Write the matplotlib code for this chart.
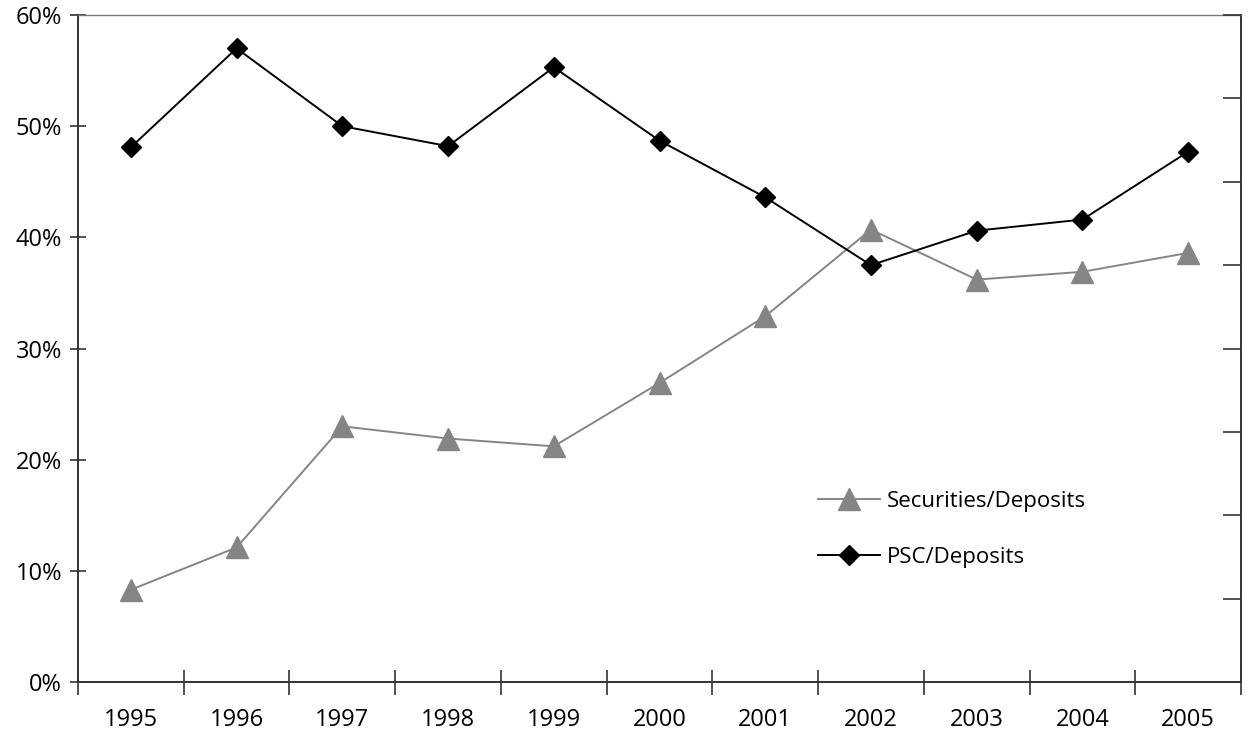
import numpy as np
import matplotlib.pyplot as plt
from matplotlib.ticker import FuncFormatter, MultipleLocator

years = ['1995', '1996', '1997', '1998', '1999', '2000', '2001', '2002', '2003', '2004', '2005']
securities = [8.3, 12.1, 23.0, 21.9, 21.2, 26.9, 32.9, 40.7, 36.2, 36.9, 38.6]
psc = [48.1, 57.0, 50.0, 48.2, 55.3, 48.7, 43.6, 37.5, 40.6, 41.6, 47.7]

plt.rcParams['font.family'] = ['Open Sans', 'DejaVu Sans']

fig = plt.figure(figsize=(12.51, 7.35), dpi=100)
ax = fig.add_axes([78 / 1251, 53 / 735, (1241 - 78) / 1251, (682 - 15) / 735])

x = np.arange(len(years))
ax.plot(x, securities, color='#858585', lw=1.4, marker='^', ms=16,
        label='Securities/Deposits')
ax.plot(x, psc, color='black', lw=1.4, marker='D', ms=10,
        label='PSC/Deposits')

ax.set_xlim(-0.5, len(years) - 0.5)
ax.set_ylim(0, 60)
ax.yaxis.set_major_locator(MultipleLocator(10))
ax.yaxis.set_major_formatter(FuncFormatter(lambda v, p: f'{v:.0f}%'))
ax.set_xticks(x)
ax.set_xticklabels(years)
ax.set_xticks(np.arange(-0.5, len(years), 1), minor=True)
ax.tick_params(axis='x', which='major', length=0, pad=19, labelsize=17)
ax.tick_params(axis='x', which='minor', direction='inout', length=18,
               width=1.2, color='#333333')
ax.tick_params(axis='y', direction='inout', length=11, width=1.2,
               color='#333333', labelsize=17, pad=6)

for s in ['left', 'bottom']:
    ax.spines[s].set_color('#333333')
    ax.spines[s].set_linewidth(1.4)
ax.spines['top'].set_color('#777777')
ax.spines['top'].set_linewidth(1.0)
ax.spines['right'].set_color('#333333')
ax.spines['right'].set_linewidth(1.4)

ax2 = ax.twinx()
ax2.set_ylim(0, 60)
ax2.yaxis.set_major_locator(MultipleLocator(7.5))
ax2.tick_params(axis='y', direction='in', length=13, width=1.2,
                color='#333333', labelright=False)
for s in ax2.spines.values():
    s.set_visible(False)

ax.legend(loc='upper left', bbox_to_anchor=(0.636, 0.287), frameon=False,
          fontsize=16, handlelength=2.8, labelspacing=1.6, handletextpad=0.3,
          borderpad=0, borderaxespad=0)

fig.savefig('out.png', dpi=100)
